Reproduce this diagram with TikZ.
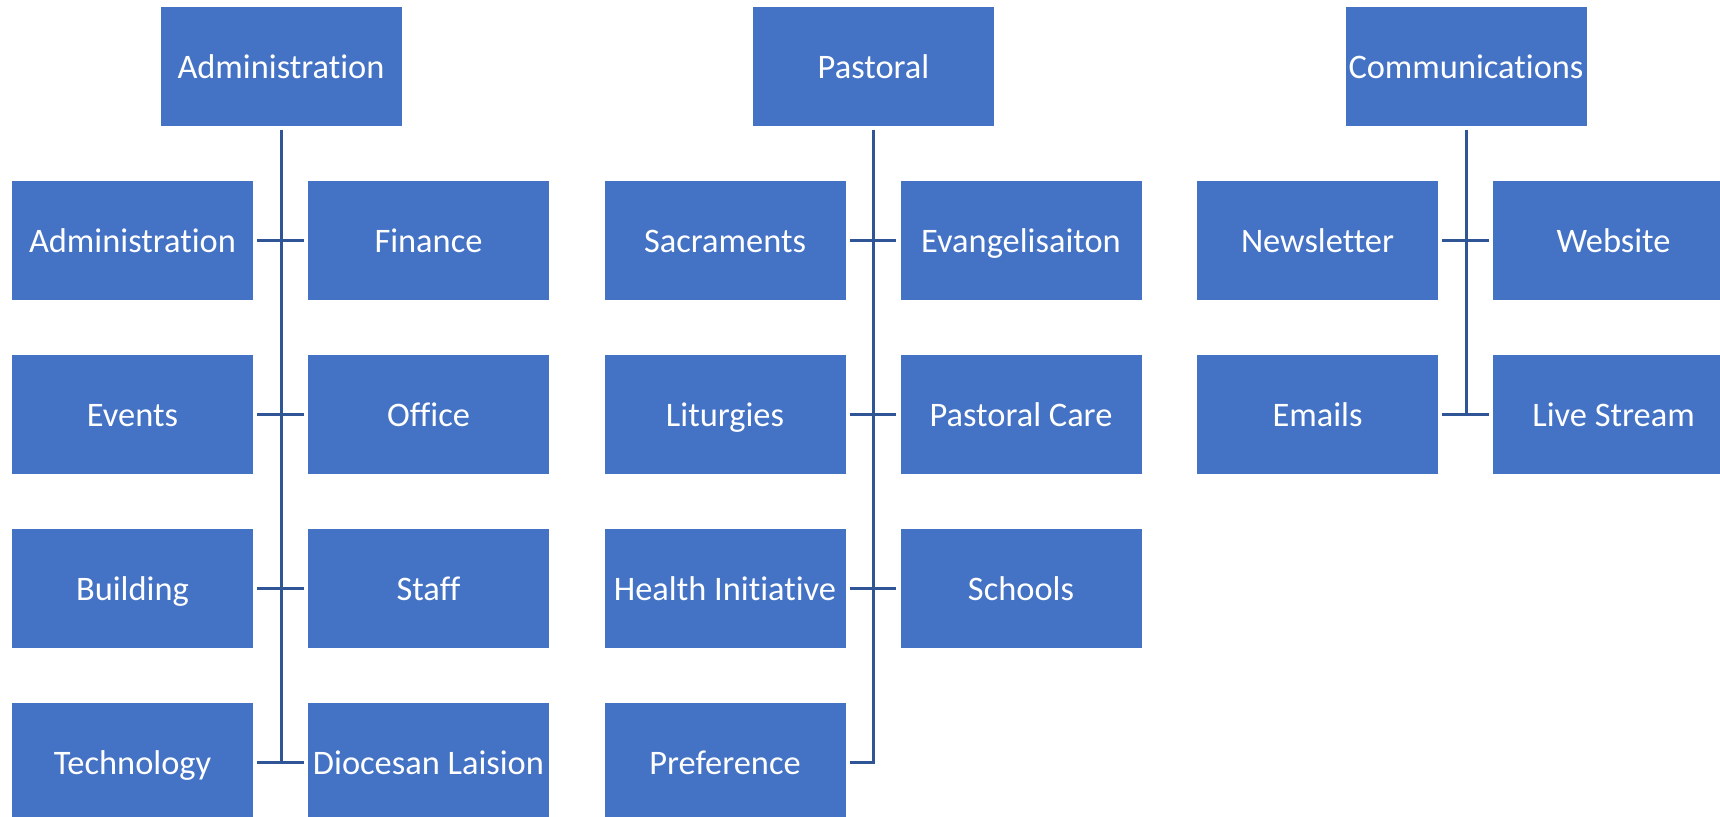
\documentclass[tikz,border=0pt]{standalone}
\usepackage{fontspec}
\setmainfont{Carlito}[Ligatures={NoCommon}]
\definecolor{boxblue}{HTML}{4472C4}
\definecolor{lineblue}{HTML}{2F5597}
\tikzset{
  orgbox/.style={rectangle, fill=boxblue, draw=none, minimum width=120.5pt, minimum height=59.75pt, inner sep=0pt, text height=13.6pt, text depth=2pt, text=white, font=\fontsize{17.2pt}{20pt}\selectfont},
  conn/.style={draw=lineblue, line width=1.5pt}
}
\begin{document}
\begin{tikzpicture}[x=0.5pt,y=-0.5pt]
\useasboundingbox (0,0) rectangle (1720,817);
\clip (0,0) rectangle (1720,817);
% Administration group
\node[orgbox] (at) at (281,66.5) {Administration};
\node[orgbox] (a1) at (132.5,240.5) {Administration};
\node[orgbox] (b1) at (428.5,240.5) {Finance};
\node[orgbox] (a2) at (132.5,414.5) {Events};
\node[orgbox] (b2) at (428.5,414.5) {Office};
\node[orgbox] (a3) at (132.5,588.5) {Building};
\node[orgbox] (b3) at (428.5,588.5) {Staff};
\node[orgbox] (a4) at (132.5,762.5) {Technology};
\node[orgbox] (b4) at (428.5,762.5) {Diocesan Laision};
\draw[conn] ([yshift=-1.5pt]at.south) -- (at.south |- a4.east);
\foreach \i in {1,2,3,4}{\draw[conn] ([xshift=2pt]a\i.east) -- ([xshift=-2pt]b\i.west);}
% Pastoral group
\node[orgbox] (pt) at (873.5,66.5) {Pastoral};
\node[orgbox] (p1) at (725,240.5) {Sacraments};
\node[orgbox] (q1) at (1021,240.5) {Evangelisaiton};
\node[orgbox] (p2) at (725,414.5) {Liturgies};
\node[orgbox] (q2) at (1021,414.5) {Pastoral Care};
\node[orgbox] (p3) at (725,588.5) {Health Initiative};
\node[orgbox] (q3) at (1021,588.5) {Schools};
\node[orgbox] (p4) at (725,762.5) {Preference};
\draw[conn] ([yshift=-1.5pt]pt.south) -- (pt.south |- p4.east);
\foreach \i in {1,2,3}{\draw[conn] ([xshift=2pt]p\i.east) -- ([xshift=-2pt]q\i.west);}
\draw[conn] ([xshift=2pt]p4.east) -- ([xshift=0.75pt]pt.south |- p4.east);
% Communications group
\node[orgbox] (ct) at (1466,66.5) {Communications};
\node[orgbox] (c1) at (1317.5,240.5) {Newsletter};
\node[orgbox] (d1) at (1613.5,240.5) {Website};
\node[orgbox] (c2) at (1317.5,414.5) {Emails};
\node[orgbox] (d2) at (1613.5,414.5) {Live Stream};
\draw[conn] ([yshift=-1.5pt]ct.south) -- (ct.south |- c2.east);
\foreach \i in {1,2}{\draw[conn] ([xshift=2pt]c\i.east) -- ([xshift=-2pt]d\i.west);}
\end{tikzpicture}
\end{document}
